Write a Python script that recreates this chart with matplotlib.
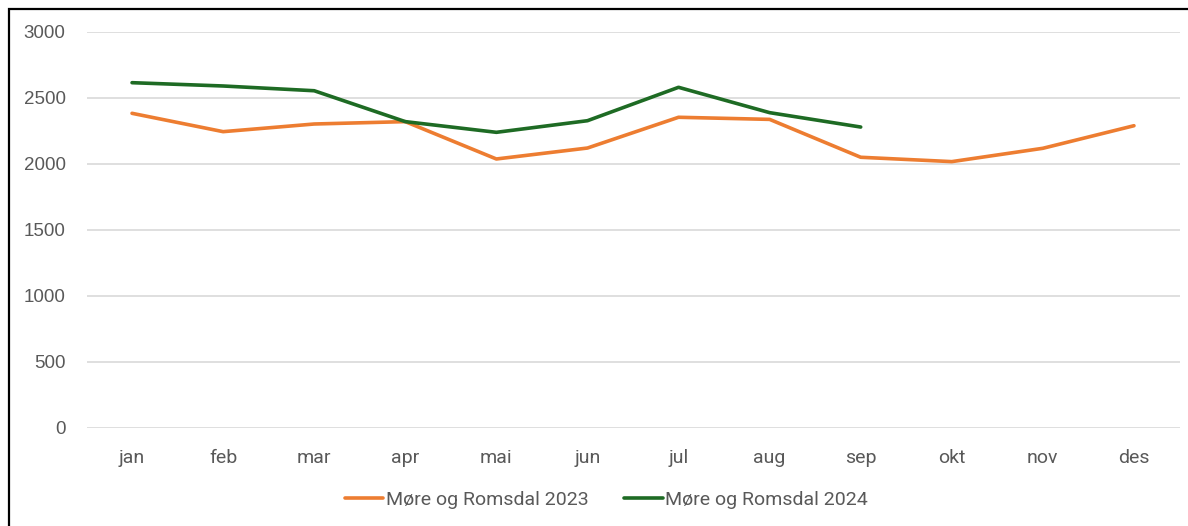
import matplotlib
matplotlib.use("Agg")
import matplotlib.pyplot as plt
from matplotlib.patches import Rectangle

MONTHS = ["jan", "feb", "mar", "apr", "mai", "jun", "jul", "aug", "sep", "okt", "nov", "des"]
VALUES_2023 = [2384, 2245, 2303, 2321, 2038, 2121, 2354, 2338, 2051, 2018, 2119, 2290]
VALUES_2024 = [2616, 2591, 2555, 2321, 2240, 2328, 2581, 2389, 2280]
LABEL_2023 = "Møre og Romsdal 2023"
LABEL_2024 = "Møre og Romsdal 2024"
Y_TICKS = [0, 500, 1000, 1500, 2000, 2500, 3000]

W, H = 1188, 526
fig = plt.figure(figsize=(W / 100, H / 100), dpi=100)
ax = fig.add_axes([86.5 / W, 1 - 428 / H, (1179.5 - 86.5) / W, (428 - 32) / H])

ax.plot(range(len(VALUES_2023)), VALUES_2023, color="#ED7D31", lw=2.6,
        solid_capstyle="round", label=LABEL_2023, zorder=3)
ax.plot(range(len(VALUES_2024)), VALUES_2024, color="#1E6B24", lw=2.6,
        solid_capstyle="round", label=LABEL_2024, zorder=4)

ax.set_xlim(-0.5, len(MONTHS) - 0.5)
ax.set_ylim(0, 3000)
ax.set_yticks(Y_TICKS)
ax.set_yticklabels([str(v) for v in Y_TICKS], family="Liberation Sans",
                   fontsize=13.5, color="#595959")
ax.set_xticks(range(len(MONTHS)))
ax.set_xticklabels(MONTHS, family="Roboto", fontsize=14, color="#595959")
ax.tick_params(axis="both", length=0)
ax.tick_params(axis="y", pad=15)
ax.tick_params(axis="x", pad=15)
ax.grid(axis="y", color="#D9D9D9", lw=1.2)
ax.set_axisbelow(True)
for s in ax.spines.values():
    s.set_visible(False)

leg = fig.legend(loc="center", bbox_to_anchor=(606.5 / W, 1 - 500 / H), ncol=2,
                 frameon=False, handlelength=1.96, handletextpad=0.15,
                 columnspacing=1.85, prop={"family": "Roboto", "size": 14})
for t in leg.get_texts():
    t.set_color("#595959")

# outer frame (only left and top edges visible in the crop)
fig.add_artist(Rectangle((8.5 / W, -0.2), 1.2, 1.2 - 8.5 / H,
                         transform=fig.transFigure, fill=False,
                         edgecolor="black", lw=1.6))

fig.savefig("out.png", dpi=100, facecolor="white")
